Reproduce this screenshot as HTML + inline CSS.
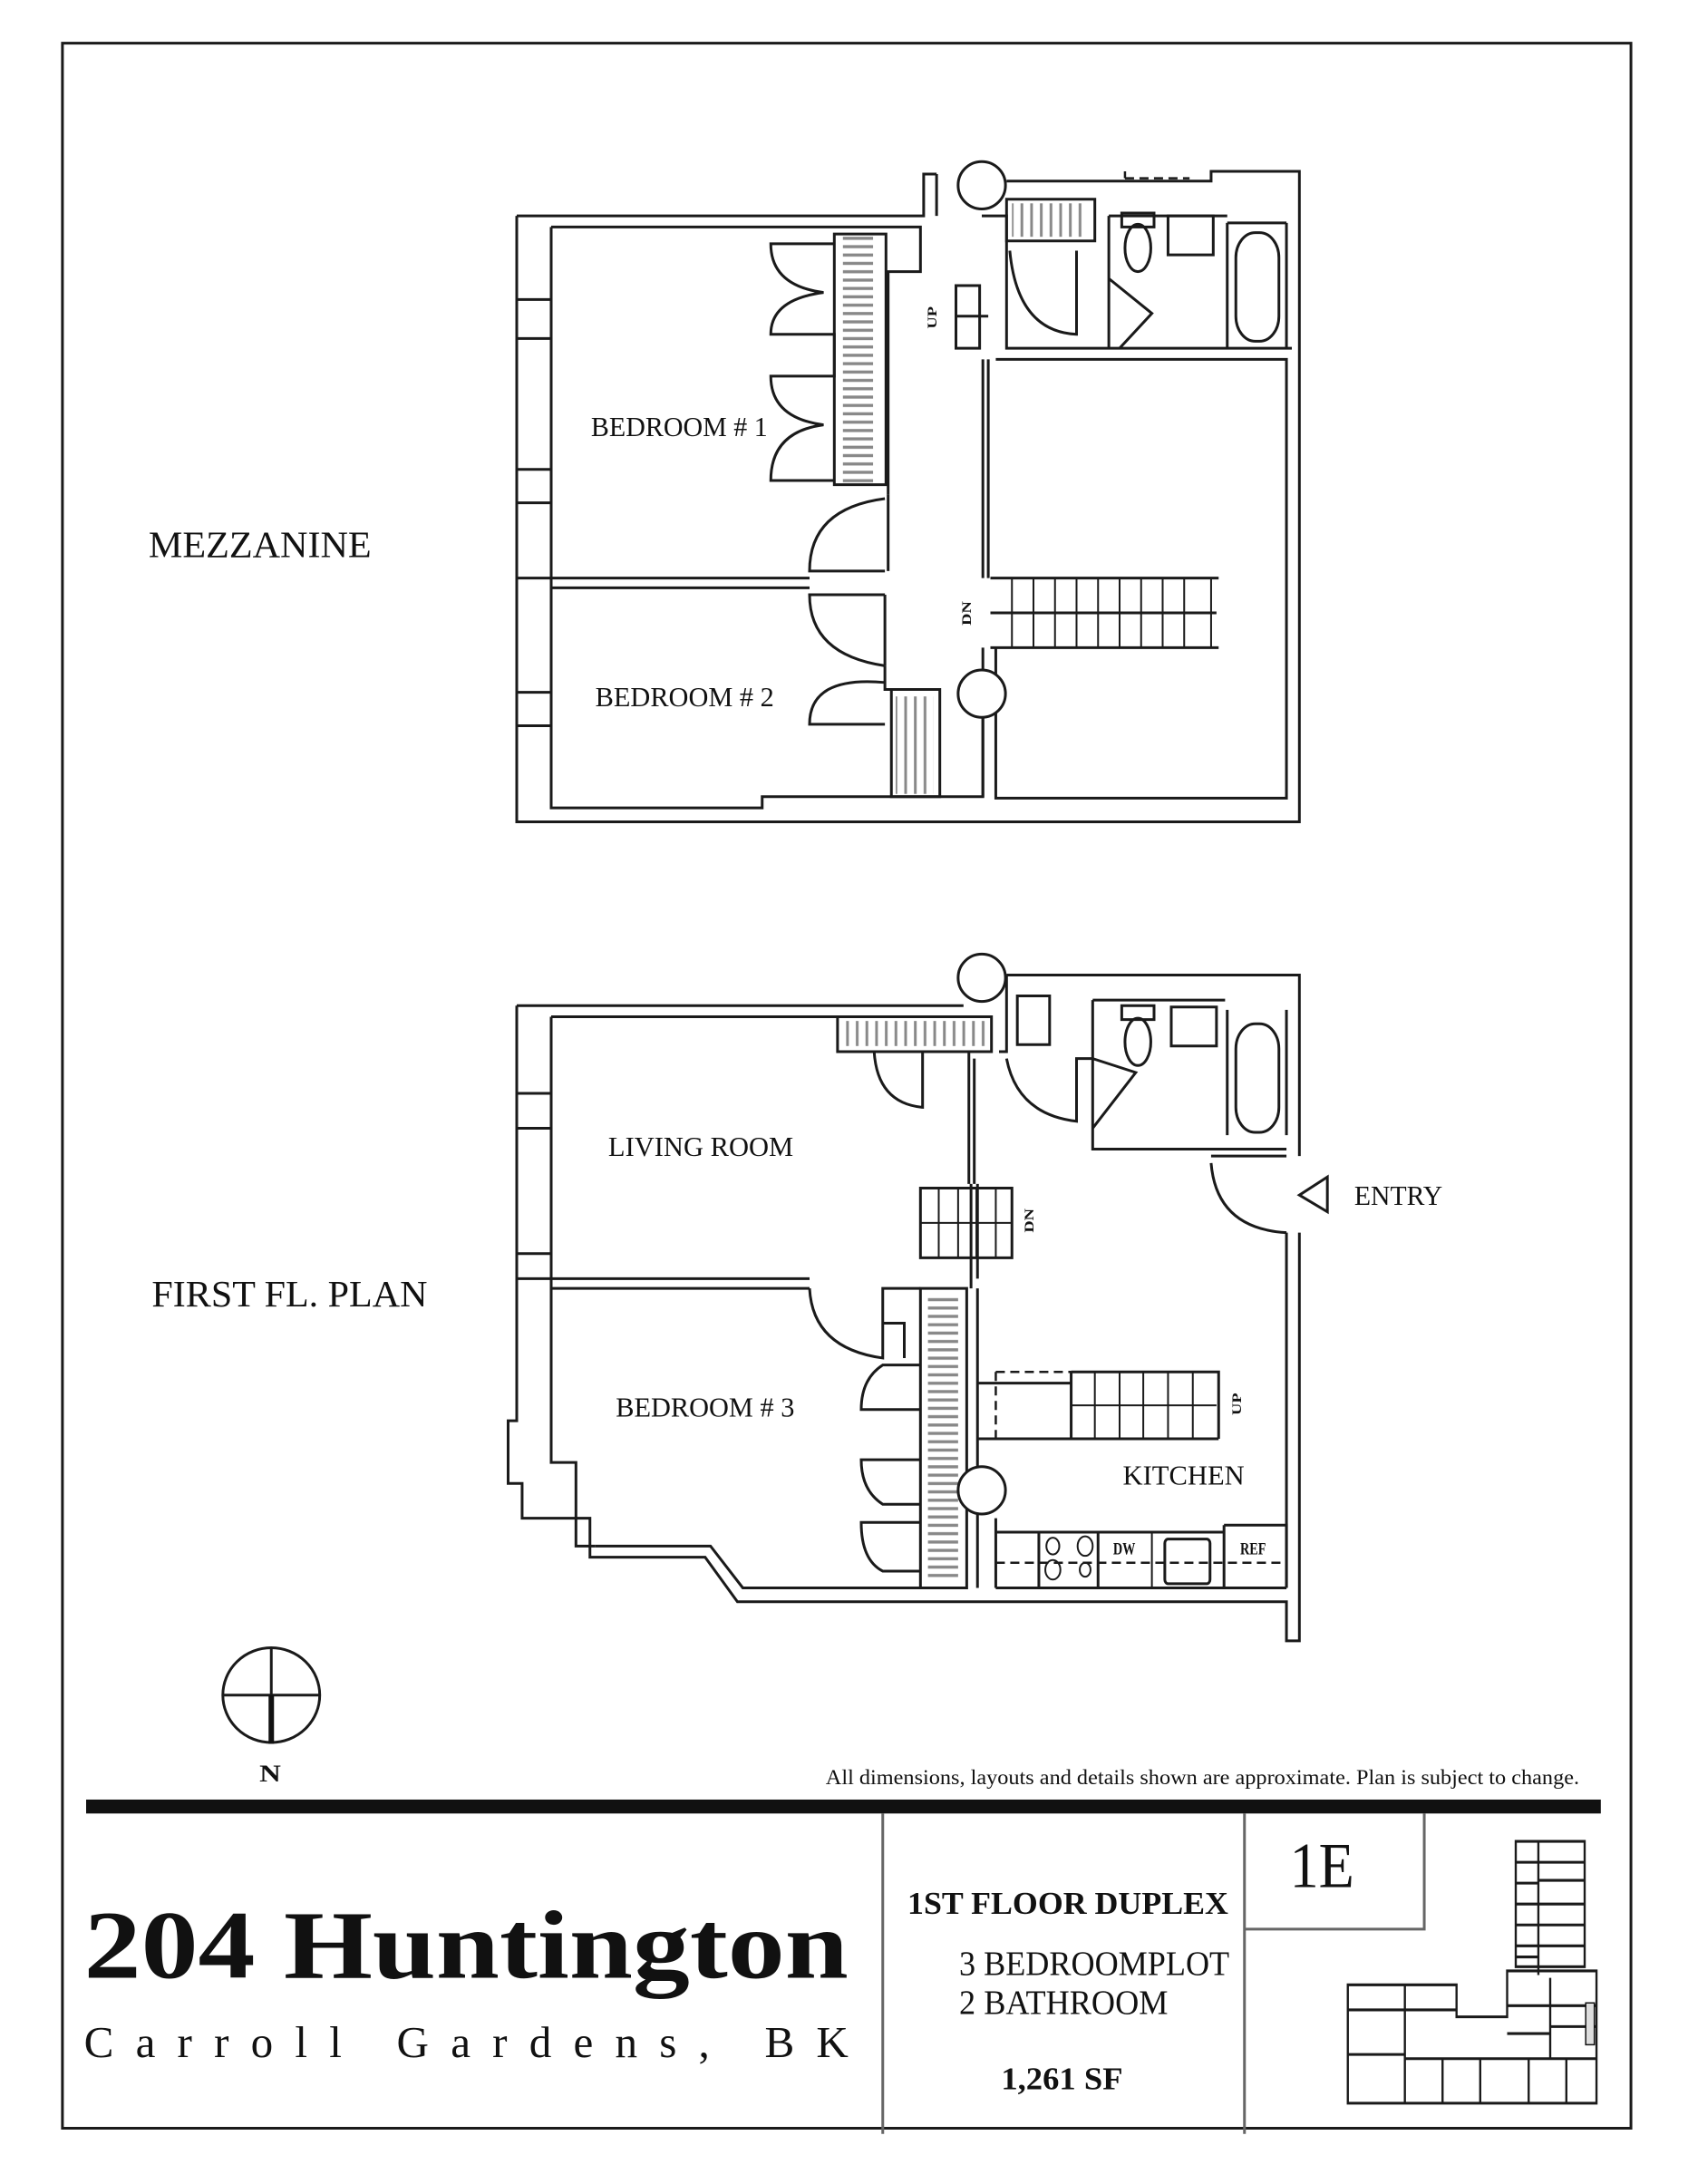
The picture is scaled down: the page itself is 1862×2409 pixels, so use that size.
<!DOCTYPE html>
<html><head><meta charset="utf-8"><style>
html,body{margin:0;padding:0;background:#fff;}
svg{display:block;}
text{font-family:"Liberation Serif",serif;fill:#111;}
.w{fill:none;stroke:#1a1a1a;stroke-width:3;vector-effect:non-scaling-stroke;}
.t{fill:none;stroke:#1a1a1a;stroke-width:2;vector-effect:non-scaling-stroke;}
.g{fill:none;stroke:#888;stroke-width:3;vector-effect:non-scaling-stroke;}
.d{fill:none;stroke:#1a1a1a;stroke-width:2.5;stroke-dasharray:10 6;vector-effect:non-scaling-stroke;}
.f{fill:#fff;stroke:#1a1a1a;stroke-width:3;vector-effect:non-scaling-stroke;}
</style></head><body>
<svg width="1862" height="2409" viewBox="0 0 1568 1568" preserveAspectRatio="none" xmlns="http://www.w3.org/2000/svg">
<defs>
<pattern id="hz" width="8" height="6" patternUnits="userSpaceOnUse"><rect x="0" y="2" width="8" height="2.2" fill="#888"/></pattern>
<pattern id="vt" width="9" height="8" patternUnits="userSpaceOnUse"><rect x="3" y="0" width="2.5" height="8" fill="#888"/></pattern>
</defs>
<rect x="58" y="31" width="1457" height="1497" class="w" style="stroke-width:3"/>

<!-- ================= MEZZANINE ================= -->
<path class="w" d="M480,155 H858 V125 H870"/>
<path class="w" d="M480,155 V590 H1207 V123 H1125 V130 H935"/>
<path class="w" d="M512,163 H855 V195 H825 V355"/>
<path class="w" d="M512,163 V580 H708 V572 H913 V490"/>
<path class="w" d="M480,215 H512 M480,243 H512 M480,337 H512 M480,361 H512 M480,497 H512 M480,521 H512"/>
<path class="w" d="M480,415 H752 M512,422 H752"/>
<rect x="775" y="168" width="48" height="180" class="w"/>
<rect x="783" y="168" width="28" height="180" fill="url(#hz)"/>
<path class="w" d="M775,175 H716 Q716,205 765,210 Q716,215 716,240 H775 V270 H716 Q716,300 765,305 Q716,310 716,345 H775"/>
<path class="w" d="M822,410 H752 Q752,365 822,358"/>
<path class="w" d="M822,427 H752 Q752,470 822,478"/>
<path class="w" d="M822,520 H752 Q752,485 822,490 M822,478 V495 H860"/>
<path class="w" d="M825,355 V410 M822,427 V478"/>
<rect x="828" y="495" width="45" height="77" class="w"/>
<rect x="832" y="500" width="35" height="70" fill="url(#vt)"/>
<path class="w" d="M913,258 V415 M918,258 V415 M913,465 V572"/>
<path class="w" d="M925,258 H1195 V573 H925 V465"/>
<path class="w" d="M920,415 H1132 M920,465 H1132 M920,440 H1130"/>
<path class="t" d="M940,415 V465 M960,415 V465 M980,415 V465 M1000,415 V465 M1020,415 V465 M1040,415 V465 M1060,415 V465 M1080,415 V465 M1100,415 V465 M1125,415 V465"/>
<text x="889" y="444" font-size="12" font-weight="bold" transform="rotate(-90 898 440)" font-family="Liberation Sans,sans-serif">DN</text>
<path class="w" d="M870,125 V155 M912,155 H935 V250 H1200"/>
<rect x="935" y="143" width="82" height="30" class="w"/>
<rect x="940" y="146" width="70" height="24" fill="url(#vt)"/>
<path class="w" d="M938,180 Q945,238 1000,240 V180"/>
<path class="w" d="M1030,155 V250 M1030,200 L1070,225 L1040,250"/>
<path class="w" d="M888,205 H910 V250 H888 Z M888,227 H918"/>
<text x="858" y="232" font-size="12" font-weight="bold" transform="rotate(-90 866 228)" font-family="Liberation Sans,sans-serif">UP</text>
<path class="w" d="M1030,155 H1140 M1140,160 V250 M1195,160 V250 M1140,160 H1195"/>
<rect x="1148" y="167" width="40" height="78" rx="18" class="w"/>
<ellipse cx="1057" cy="178" rx="12" ry="17" class="w"/>
<rect x="1042" y="153" width="30" height="10" class="w"/>
<rect x="1085" y="155" width="42" height="28" class="w"/>
<path class="d" d="M1045,128 H1105 M1045,128 V123"/>
<ellipse cx="912" cy="133" rx="22" ry="17" class="f"/>
<ellipse cx="912" cy="498" rx="22" ry="17" class="f"/>

<!-- ================= FIRST FLOOR ================= -->
<path class="w" d="M480,722 H895 M935,700 H1207 V830 M1207,885 V1178 H1195 V1150 H685 L655,1118 H548 V1090 H485 V1065 H472 V1020 H480 V722"/>
<path class="w" d="M1195,885 V1140 M1195,830 H1125"/>
<path class="w" d="M512,730 H778 M512,730 V1050 H535 V1110 H553"/>
<path class="w" d="M480,785 H512 M480,810 H512 M480,900 H512 M480,918 H752 M512,925 H752 M553,1110 H660 L690,1140 H855"/>
<rect x="778" y="730" width="143" height="25" class="w"/>
<rect x="785" y="733" width="130" height="18" fill="url(#vt)"/>
<path class="w" d="M812,755 Q815,792 857,795 V755 M900,755 V850 M905,760 V850"/>
<path class="w" d="M935,700 V755 H928 M945,715 H975 V750 H945 Z"/>
<path class="w" d="M935,760 Q945,800 1000,805 V760 H1015"/>
<path class="w" d="M1015,718 V825 H1195 M1015,760 L1055,770 L1015,810"/>
<path class="w" d="M1015,718 H1138 M1140,725 V815 M1195,725 V815"/>
<rect x="1148" y="735" width="40" height="78" rx="18" class="w"/>
<ellipse cx="1057" cy="748" rx="12" ry="17" class="w"/>
<rect x="1042" y="722" width="30" height="10" class="w"/>
<rect x="1088" y="723" width="42" height="28" class="w"/>
<path class="w" d="M1125,835 Q1130,882 1195,885"/>
<path class="w" d="M1233,845 V870 L1207,858 Z"/>
<rect x="855" y="853" width="85" height="50" class="w"/>
<path class="t" d="M872,853 V903 M890,853 V903 M907,853 V903 M925,853 V903 M855,878 H940"/>
<path class="w" d="M902,850 V918 M908,850 V918 M902,910 V925"/>
<text x="947" y="880" font-size="12" font-weight="bold" transform="rotate(-90 956 876)" font-family="Liberation Sans,sans-serif">DN</text>
<path class="w" d="M752,925 Q755,968 820,975 V925 H855"/>
<rect x="855" y="925" width="43" height="215" class="w"/>
<rect x="862" y="930" width="28" height="205" fill="url(#hz)"/>
<path class="w" d="M855,980 H820 Q800,990 800,1012 H855 M855,1048 H800 Q800,1070 820,1080 H855 M855,1093 H800 Q800,1120 820,1128 H855"/>
<path class="w" d="M820,950 H840 V975"/>
<path class="d" d="M925,985 H995 M925,985 V1033"/>
<path class="w" d="M908,993 H995 M908,1033 H1132 M995,985 H1132 V1033 M995,985 V1033"/>
<path class="t" d="M1017,985 V1033 M1040,985 V1033 M1062,985 V1033 M1085,985 V1033 M1108,985 V1033 M995,1009 H1130"/>
<text x="1141" y="1012" font-size="12" font-weight="bold" transform="rotate(-90 1149 1008)" font-family="Liberation Sans,sans-serif">UP</text>
<path class="w" d="M908,925 V1140"/>
<path class="w" d="M925,1090 V1140 M925,1100 H1137 M925,1140 H1195 M1137,1095 H1195 V1140 M1137,1095 V1140"/>
<path class="d" d="M925,1122 H1195"/>
<rect x="965" y="1100" width="55" height="40" class="w"/>
<circle cx="978" cy="1110" r="6" class="t"/><circle cx="1008" cy="1110" r="7" class="t"/>
<circle cx="978" cy="1127" r="7" class="t"/><circle cx="1008" cy="1127" r="5" class="t"/>
<rect x="1082" y="1105" width="42" height="32" rx="3" class="w"/>
<path class="t" d="M1070,1100 V1140"/>
<text x="1034" y="1116" font-size="12" font-weight="bold" font-family="Liberation Sans,sans-serif">DW</text>
<text x="1152" y="1116" font-size="12" font-weight="bold" font-family="Liberation Sans,sans-serif">REF</text>
<ellipse cx="912" cy="702" rx="22" ry="17" class="f"/>
<ellipse cx="912" cy="1070" rx="22" ry="17" class="f"/>

<text x="549" y="313" font-size="20" textLength="164" lengthAdjust="spacingAndGlyphs">BEDROOM # 1</text>
<text x="553" y="507" font-size="20" textLength="166" lengthAdjust="spacingAndGlyphs">BEDROOM # 2</text>
<text x="565" y="830" font-size="20" textLength="172" lengthAdjust="spacingAndGlyphs">LIVING ROOM</text>
<text x="572" y="1017" font-size="20" textLength="166" lengthAdjust="spacingAndGlyphs">BEDROOM # 3</text>
<text x="1043" y="1066" font-size="20" textLength="113" lengthAdjust="spacingAndGlyphs">KITCHEN</text>
<text x="1258" y="865" font-size="20" textLength="82" lengthAdjust="spacingAndGlyphs">ENTRY</text>
<text x="138" y="400" font-size="27" textLength="207" lengthAdjust="spacingAndGlyphs">MEZZANINE</text>
<text x="141" y="938" font-size="27" textLength="256" lengthAdjust="spacingAndGlyphs">FIRST FL. PLAN</text>

<ellipse cx="252" cy="1217" rx="45" ry="34" class="w"/>
<path class="w" d="M207,1217 H297 M252,1183 V1217"/>
<path d="M252,1217 V1252" stroke="#111" stroke-width="6" vector-effect="non-scaling-stroke"/>
<text x="241" y="1279" font-size="17" font-weight="bold" font-family="Liberation Sans,sans-serif" textLength="20" lengthAdjust="spacingAndGlyphs">N</text>

<text x="767" y="1281" font-size="15" textLength="700" lengthAdjust="spacingAndGlyphs">All dimensions, layouts and details shown are approximate. Plan is subject to change.</text>
<rect x="80" y="1292" width="1407" height="10" fill="#111"/>
<path d="M820,1302 V1532 M1156,1302 V1532" stroke="#666" stroke-width="3" vector-effect="non-scaling-stroke" fill="none"/>
<path d="M1156,1385 H1323 V1302" stroke="#666" stroke-width="3" vector-effect="non-scaling-stroke" fill="none"/>
<text x="1198" y="1355" font-size="46" textLength="60" lengthAdjust="spacingAndGlyphs">1E</text>
<text x="78" y="1420" font-size="70" font-weight="bold" textLength="710" lengthAdjust="spacingAndGlyphs">204 Huntington</text>
<text transform="scale(1.2935 1)" x="60.3" y="1477" font-size="32" textLength="549" lengthAdjust="spacing">Carroll Gardens, BK</text>
<text x="843" y="1374" font-size="23" font-weight="bold" textLength="298" lengthAdjust="spacingAndGlyphs">1ST FLOOR DUPLEX</text>
<text x="891" y="1418" font-size="25" textLength="251" lengthAdjust="spacingAndGlyphs">3 BEDROOMPLOT</text>
<text x="891" y="1446" font-size="25" textLength="194" lengthAdjust="spacingAndGlyphs">2 BATHROOM</text>
<text x="930" y="1500" font-size="23" font-weight="bold" textLength="113" lengthAdjust="spacingAndGlyphs">1,261 SF</text>

<g class="t">
<rect x="1408" y="1322" width="64" height="90"/>
<path d="M1429,1322 V1418 M1408,1337 H1472 M1429,1350 H1472 M1408,1352 H1429 M1408,1367 H1472 M1408,1382 H1472 M1408,1397 H1429 M1429,1397 H1472 M1408,1405 H1429"/>
<path d="M1252,1425 H1353 V1448 H1400 V1415 H1483 V1510 H1252 Z"/>
<path d="M1305,1425 V1510 M1252,1443 H1305 M1305,1443 H1353 M1252,1475 H1305 M1305,1478 H1483 M1340,1478 V1510 M1375,1478 V1510 M1420,1478 V1510 M1455,1478 V1510 M1440,1420 V1478 M1440,1440 H1483 M1440,1455 H1483 M1400,1440 H1440 M1400,1460 H1440"/>
</g>
<rect x="1473" y="1438" width="8" height="30" fill="#ddd" stroke="#111" stroke-width="1.5" vector-effect="non-scaling-stroke"/>
</svg>
</body></html>
